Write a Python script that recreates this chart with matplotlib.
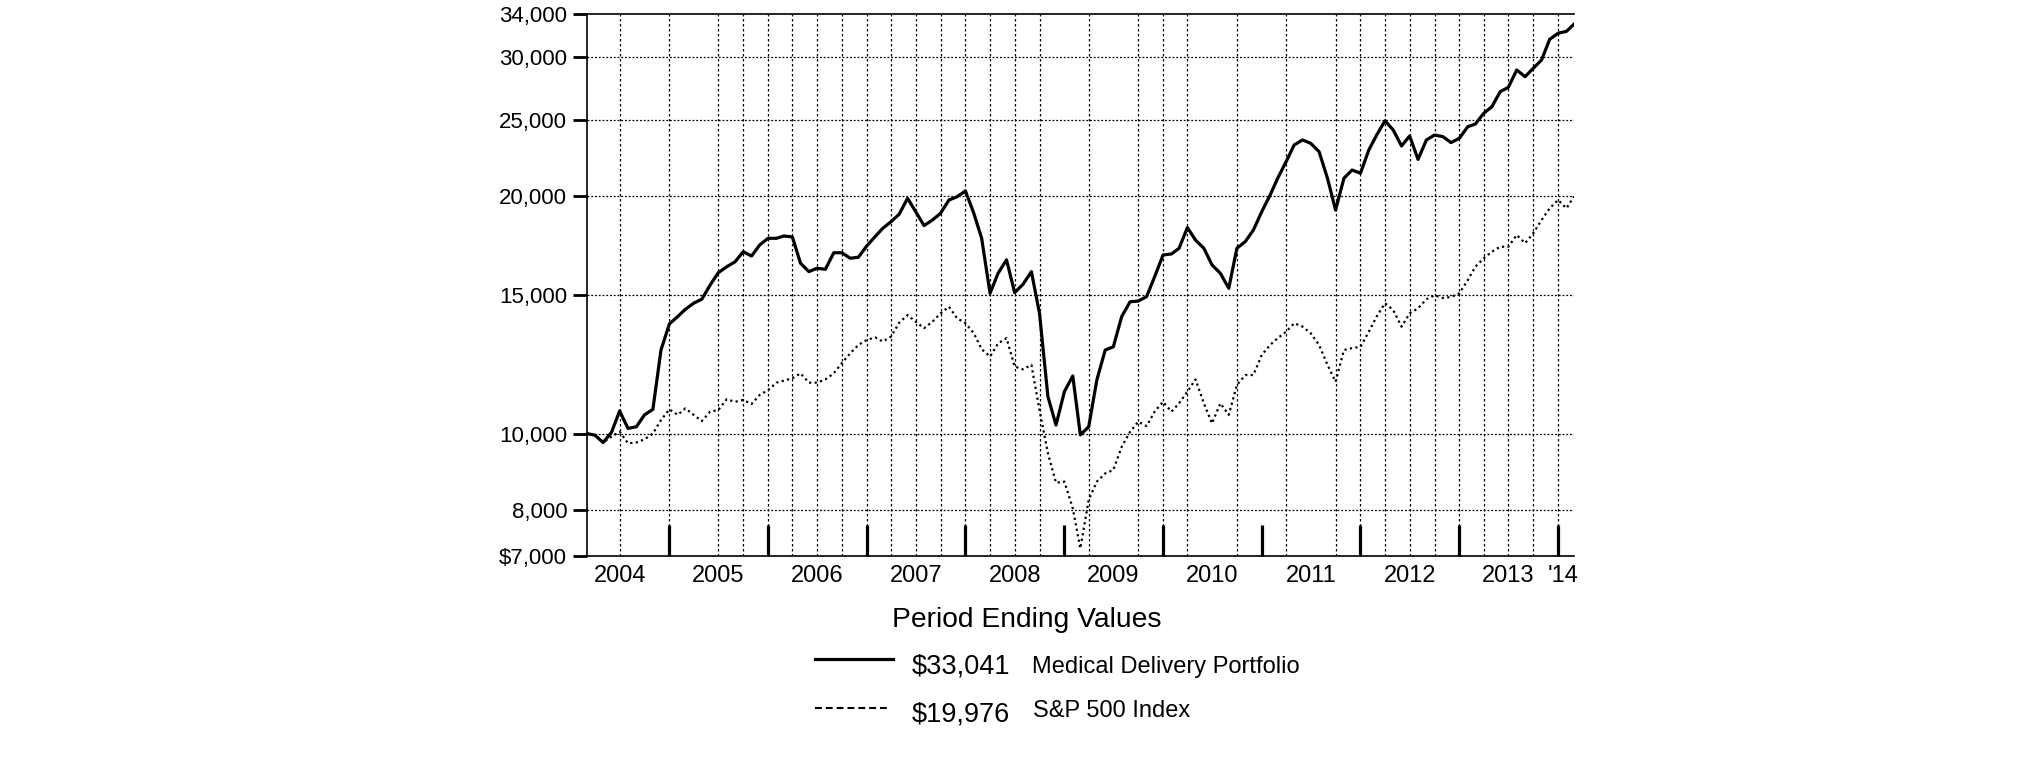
import matplotlib
matplotlib.use("Agg")
import matplotlib.pyplot as plt
import matplotlib.dates as mdates
from matplotlib.lines import Line2D
import pandas as pd

plt.rcParams['font.family'] = ['Liberation Sans', 'DejaVu Sans']

# Month-end dates, Feb 2004 .. Feb 2014
dates = pd.date_range("2004-03-01", periods=121, freq="MS") - pd.Timedelta(days=1)

# Growth of $10,000 - Medical Delivery Portfolio
portfolio = [
    10000, 9950, 9740, 10035, 10680, 10150, 10200, 10560, 10730, 12760,
    13770, 14070, 14370, 14630, 14800, 15430, 15990, 16270, 16510, 17000,
    16790, 17340, 17680, 17680, 17800, 17750, 16440, 16040, 16200, 16150,
    16950, 16950, 16680, 16730, 17290, 17770, 18200, 18560, 18970, 19870,
    19110, 18350, 18650, 19020, 19770, 19960, 20300, 19020, 17680, 15060,
    15970, 16600, 15090, 15460, 16040, 14200, 11140, 10250, 11300, 11830,
    9960, 10200, 11690, 12760, 12880, 14070, 14690, 14720, 14910, 15810,
    16840, 16890, 17170, 18240, 17590, 17170, 16360, 15960, 15280, 17170,
    17510, 18110, 19110, 20060, 21070, 22110, 23220, 23560, 23330, 22770,
    21070, 19200, 21070, 21580, 21380, 22880, 23900, 24920, 24260, 23150,
    23840, 22260, 23560, 23900, 23790, 23380, 23680, 24490, 24680, 25470,
    25960, 27130, 27470, 28900, 28340, 29040, 29760, 31610, 32170, 32350,
    33041,
]

# Growth of $10,000 - S&P 500 Index
sp500 = [
    10000, 9950, 9740, 9910, 10050, 9720, 9740, 9830, 10000, 10400,
    10730, 10560, 10760, 10560, 10370, 10660, 10710, 11050, 10970, 11030,
    10900, 11190, 11350, 11600, 11670, 11750, 11920, 11600, 11600, 11710,
    11920, 12280, 12640, 12950, 13140, 13240, 13080, 13270, 13820, 14130,
    13860, 13600, 13860, 14200, 14480, 14000, 13800, 13400, 12790, 12520,
    13010, 13210, 12160, 12060, 12220, 10710, 9440, 8660, 8690, 8040,
    7150, 8240, 8690, 8900, 8990, 9620, 10050, 10350, 10220, 10660,
    10970, 10660, 10920, 11300, 11710, 10920, 10300, 10920, 10560, 11520,
    11860, 11860, 12580, 12950, 13210, 13460, 13800, 13660, 13400, 12950,
    12220, 11630, 12760, 12830, 12880, 13460, 14070, 14630, 14340, 13660,
    14200, 14410, 14800, 14970, 14850, 14900, 15060, 15650, 16270, 16680,
    17000, 17250, 17250, 17850, 17430, 17940, 18650, 19300, 19770, 19300,
    19976,
]

y_ticks = [7000, 8000, 10000, 15000, 20000, 25000, 30000, 34000]
y_labels = ["$7,000", "8,000", "10,000", "15,000", "20,000", "25,000", "30,000", "34,000"]

year_labels = ["2004", "2005", "2006", "2007", "2008", "2009", "2010",
               "2011", "2012", "2013", "'14"]
year_label_dates = pd.to_datetime([
    "2004-07-01", "2005-07-01", "2006-07-01", "2007-07-01", "2008-07-01",
    "2009-07-01", "2010-07-01", "2011-07-01", "2012-07-01", "2013-07-01",
    "2014-01-17"])
year_ends = pd.to_datetime(["%d-12-31" % y for y in range(2004, 2014)])

# quarter-end dates that carry a dotted grid line in the original
grid_dates = pd.to_datetime([
    "2004-06-30", "2004-12-31",
    "2005-06-30", "2005-09-30", "2005-12-31",
    "2006-03-31", "2006-06-30", "2006-09-30", "2006-12-31",
    "2007-03-31", "2007-06-30", "2007-09-30", "2007-12-31",
    "2008-03-31", "2008-06-30", "2008-09-30",
    "2009-03-31", "2009-09-30", "2009-12-31",
    "2010-03-31", "2010-09-30",
    "2011-03-31", "2011-09-30", "2011-12-31",
    "2012-03-31", "2012-06-30", "2012-09-30", "2012-12-31",
    "2013-03-31", "2013-06-30", "2013-09-30", "2013-12-31",
])

fig = plt.figure(figsize=(20.25, 7.61), dpi=100, facecolor="w")
ax = fig.add_axes([0.2897, 0.2698, 0.4876, 0.7114])

# Grid lines
for d in grid_dates:
    ax.axvline(d, color="black", lw=0.9, linestyle=(0, (2, 2)), zorder=1)
for v in y_ticks[1:-1]:
    ax.axhline(v, color="black", lw=0.9, linestyle=(0, (1.5, 1.5)), zorder=1)

# The two series
ax.plot(dates, portfolio, color="black", lw=2.3, zorder=3)
ax.plot(dates, sp500, color="black", lw=1.6, linestyle=(0, (1.0, 1.5)), zorder=3)

ax.set_yscale("log")
ax.set_ylim(7000, 34000)
ax.set_xlim(dates[0], dates[-1])

ax.yaxis.set_minor_locator(matplotlib.ticker.NullLocator())
ax.set_yticks(y_ticks)
ax.set_yticklabels(y_labels)
ax.yaxis.set_minor_formatter(matplotlib.ticker.NullFormatter())
ax.tick_params(axis="y", which="major", direction="out", length=10, width=2,
               pad=4, labelsize=16)
ax.tick_params(axis="y", which="minor", length=0)

ax.set_xticks(mdates.date2num(year_ends))
ax.set_xticklabels([])
ax.set_xticks(mdates.date2num(year_label_dates), minor=True)
ax.set_xticklabels(year_labels, minor=True)
ax.tick_params(axis="x", which="major", direction="in", length=22, width=2.3)
ax.tick_params(axis="x", which="minor", length=0, pad=7, labelsize=17)

for s in ["left", "bottom", "top"]:
    ax.spines[s].set_linewidth(1.2)
ax.spines["right"].set_visible(False)

# Legend block underneath
fig.text(0.4403, 0.1765, "Period Ending Values", fontsize=20.3, va="baseline", ha="left")
fig.add_artist(Line2D([0.4025, 0.441], [0.1336, 0.1336], color="black", lw=2.3,
                      transform=fig.transFigure))
fig.text(0.4502, 0.1152, "$33,041", fontsize=19.5, va="baseline", ha="left")
fig.text(0.5095, 0.1160, "Medical Delivery Portfolio", fontsize=17, va="baseline", ha="left")
fig.add_artist(Line2D([0.4025, 0.4395], [0.0693, 0.0693], color="black", lw=1.5,
                      linestyle=(0, (3.3, 1.9)), transform=fig.transFigure))
fig.text(0.4502, 0.0516, "$19,976", fontsize=19.5, va="baseline", ha="left")
fig.text(0.5103, 0.0574, "S&P 500 Index", fontsize=17, va="baseline", ha="left")

fig.savefig("out.png", dpi=100)
